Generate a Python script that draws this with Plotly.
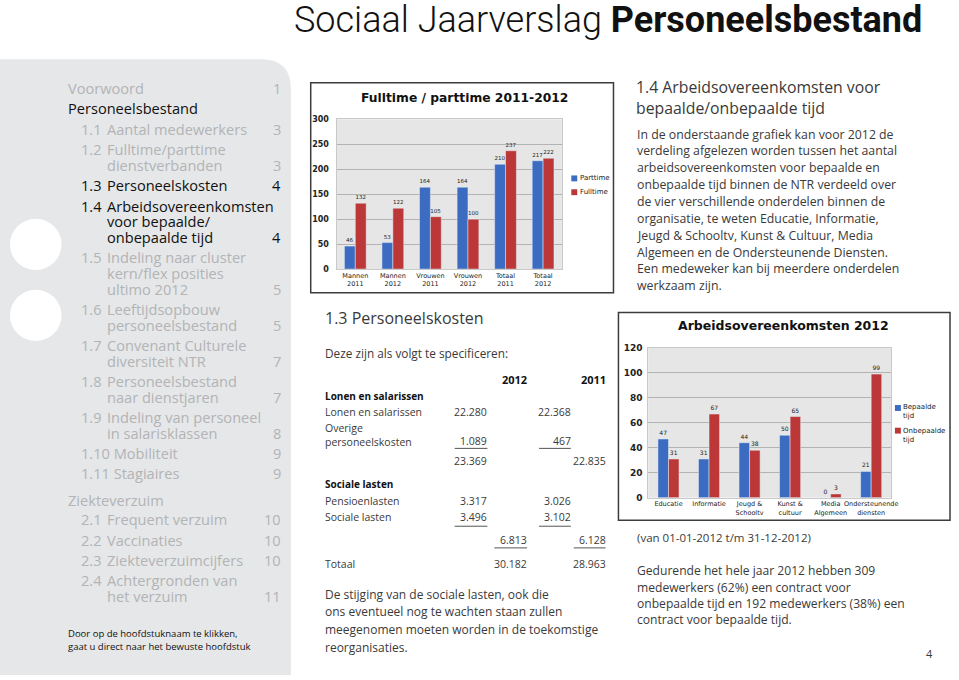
import plotly.graph_objects as go

W, H = 959, 680


def X(p):
    return p / W


def Y(p):
    return 1 - p / H


# ---------------- data ----------------
cats_ft = ["Mannen<br>2011", "Mannen<br>2012", "Vrouwen<br>2011",
           "Vrouwen<br>2012", "Totaal<br>2011", "Totaal<br>2012"]
parttime = [46, 53, 164, 164, 210, 217]
fulltime = [132, 122, 105, 100, 237, 222]

cats_ao = ["Educatie", "Informatie", "Jeugd &amp;<br>Schooltv", "Kunst &amp;<br>cultuur",
           "Media<br>Algemeen", "Ondersteunende<br>diensten"]
bepaalde = [47, 31, 44, 50, 0, 21]
onbepaalde = [31, 67, 38, 65, 3, 99]

toc_top = [("Voorwoord", "1", False), ("Personeelsbestand", "", True)]
toc_items = [
    ("1.1", ["Aantal medewerkers"], "3", False),
    ("1.2", ["Fulltime/parttime", "dienstverbanden"], "3", False),
    ("1.3", ["Personeelskosten"], "4", True),
    ("1.4", ["Arbeidsovereenkomsten", "voor bepaalde/", "onbepaalde tijd"], "4", True),
    ("1.5", ["Indeling naar cluster", "kern/flex posities", "ultimo 2012"], "5", False),
    ("1.6", ["Leeftijdsopbouw", "personeelsbestand"], "5", False),
    ("1.7", ["Convenant Culturele", "diversiteit NTR"], "7", False),
    ("1.8", ["Personeelsbestand", "naar dienstjaren"], "7", False),
    ("1.9", ["Indeling van personeel", "in salarisklassen"], "8", False),
    ("1.10", ["Mobiliteit"], "9", False),
    ("1.11", ["Stagiaires"], "9", False),
]
toc_heading2 = "Ziekteverzuim"
toc_items2 = [
    ("2.1", ["Frequent verzuim"], "10", False),
    ("2.2", ["Vaccinaties"], "10", False),
    ("2.3", ["Ziekteverzuimcijfers"], "10", False),
    ("2.4", ["Achtergronden van", "het verzuim"], "11", False),
]
toc_note = ["Door op de hoofdstuknaam te klikken,",
            "gaat u direct naar het bewuste hoofdstuk"]

cost_years = ["2012", "2011"]
salaris_head = "Lonen en salarissen"
salaris_labels = ["Lonen en salarissen", "Overige<br>personeelskosten"]
salaris_2012 = ["22.280", "1.089"]
salaris_2011 = ["22.368", "467"]
salaris_sub = ["23.369", "22.835"]
sociaal_head = "Sociale lasten"
sociaal_labels = ["Pensioenlasten", "Sociale lasten"]
sociaal_2012 = ["3.317", "3.496"]
sociaal_2011 = ["3.026", "3.102"]
sociaal_sub = ["6.813", "6.128"]
totaal_label = "Totaal"
totaal = ["30.182", "28.963"]

kosten_title = "1.3 Personeelskosten"
kosten_intro = "Deze zijn als volgt te specificeren:"
kosten_para = ["De stijging van de sociale lasten, ook die",
               "ons eventueel nog te wachten staan zullen",
               "meegenomen moeten worden in de toekomstige",
               "reorganisaties."]

ao_title = ["1.4 Arbeidsovereenkomsten voor", "bepaalde/onbepaalde tijd"]
ao_para = ["In de onderstaande grafiek kan voor 2012 de",
           "verdeling afgelezen worden tussen het aantal",
           "arbeidsovereenkomsten voor bepaalde en",
           "onbepaalde tijd binnen de NTR verdeeld over",
           "de vier verschillende onderdelen binnen de",
           "organisatie, te weten Educatie, Informatie,",
           "Jeugd &amp; Schooltv, Kunst &amp; Cultuur, Media",
           "Algemeen en de Ondersteunende Diensten.",
           "Een medeweker kan bij meerdere onderdelen",
           "werkzaam zijn."]
ao_period = "(van 01-01-2012 t/m 31-12-2012)"
ao_para2 = ["Gedurende het hele jaar 2012 hebben 309",
            "medewerkers (62%) een contract voor",
            "onbepaalde tijd en 192 medewerkers (38%) een",
            "contract voor bepaalde tijd."]
page_no = "4"

# ---------------- style ----------------
BLUE = "#3b6cc1"
RED = "#bc3838"
BODY = "Open Sans"
CHART = "DejaVu Sans"
GREY_TXT = "#b2b4b6"
DARK_TXT = "#3a3a3a"

fig = go.Figure()

bw1 = 0.29
fig.add_trace(go.Bar(x=cats_ft, y=parttime, name="Parttime", marker_color=BLUE,
                     width=bw1, offset=-bw1, text=parttime, textposition="outside",
                     constraintext="none", cliponaxis=False,
                     textfont=dict(size=5.5, color="#222", family=CHART),
                     xaxis="x", yaxis="y", showlegend=False))
fig.add_trace(go.Bar(x=cats_ft, y=fulltime, name="Fulltime", marker_color=RED,
                     width=bw1, offset=0, text=fulltime, textposition="outside",
                     constraintext="none", cliponaxis=False,
                     textfont=dict(size=5.5, color="#222", family=CHART),
                     xaxis="x", yaxis="y", showlegend=False))
bw2 = 0.26
fig.add_trace(go.Bar(x=cats_ao, y=bepaalde, name="Bepaalde tijd", marker_color=BLUE,
                     width=bw2, offset=-bw2, text=bepaalde, textposition="outside",
                     constraintext="none", cliponaxis=False,
                     textfont=dict(size=6, color="#222", family=CHART),
                     xaxis="x2", yaxis="y2", showlegend=False))
fig.add_trace(go.Bar(x=cats_ao, y=onbepaalde, name="Onbepaalde tijd", marker_color=RED,
                     width=bw2, offset=0, text=onbepaalde, textposition="outside",
                     constraintext="none", cliponaxis=False,
                     textfont=dict(size=6, color="#222", family=CHART),
                     xaxis="x2", yaxis="y2", showlegend=False))

axis_common = dict(showline=True, linecolor="#c9c9c9", linewidth=1, mirror=True,
                   ticks="", fixedrange=True)
fig.update_layout(
    width=W, height=H, margin=dict(l=0, r=0, t=0, b=0),
    paper_bgcolor="white", plot_bgcolor="#e6e6e6",
    barmode="overlay", showlegend=False,
    xaxis=dict(domain=[X(339), X(566)], anchor="y", showgrid=False, tickangle=0,
               tickfont=dict(size=6.5, family=CHART, color="#222"), **axis_common),
    yaxis=dict(domain=[Y(268), Y(116)], anchor="x", range=[0, 300], dtick=50,
               gridcolor="#b3b3b3", zeroline=False, ticklabelstandoff=5,
               tickfont=dict(size=8, family=CHART, color="#222", weight="bold"),
               **axis_common),
    xaxis2=dict(domain=[X(653), X(898)], anchor="y2", showgrid=False, tickangle=0,
                tickfont=dict(size=6.5, family=CHART, color="#222"), **axis_common),
    yaxis2=dict(domain=[Y(500), Y(348)], anchor="x2", range=[0, 120], dtick=20,
                gridcolor="#b3b3b3", zeroline=False, ticklabelstandoff=3,
                tickfont=dict(size=9, family=CHART, color="#222", weight="bold"),
                **axis_common),
)

shapes = []
# sidebar with rounded top-right corner
shapes.append(dict(type="path", xref="paper", yref="paper",
                   path=(f"M 0,{Y(55)} L {X(263)},{Y(55)} Q {X(293)},{Y(55)} {X(293)},{Y(85)} "
                         f"L {X(293)},{Y(680)} L 0,{Y(680)} Z"),
                   fillcolor="#e6e7e8", line=dict(width=0), layer="below"))
for cy in (243, 315):
    shapes.append(dict(type="circle", xref="paper", yref="paper",
                       x0=X(10), x1=X(62), y0=Y(cy + 26), y1=Y(cy - 26),
                       fillcolor="white", line=dict(width=0), layer="below"))
# chart frames
shapes.append(dict(type="rect", xref="paper", yref="paper", x0=X(313), x1=X(618),
                   y0=Y(292), y1=Y(79), line=dict(color="#3c3c3c", width=1.5)))
shapes.append(dict(type="rect", xref="paper", yref="paper", x0=X(623), x1=X(957),
                   y0=Y(523), y1=Y(312), line=dict(color="#3c3c3c", width=1.5)))
# legend swatches
for cy, col in ((176, BLUE), (190, RED)):
    shapes.append(dict(type="rect", xref="paper", yref="paper", x0=X(575.5), x1=X(581.5),
                       y0=Y(cy + 3), y1=Y(cy - 3), fillcolor=col, line=dict(width=0)))
for cy, col in ((409, BLUE), (432, RED)):
    shapes.append(dict(type="rect", xref="paper", yref="paper", x0=X(901.5), x1=X(907.5),
                       y0=Y(cy + 3), y1=Y(cy - 3), fillcolor=col, line=dict(width=0)))
# table underlines
for yy, segs in ((450, [(458, 491), (543, 575)]),
                 (529, [(458, 491), (543, 575)]),
                 (551, [(498, 531), (578, 610)])):
    for a, b in segs:
        shapes.append(dict(type="line", xref="paper", yref="paper", x0=X(a), x1=X(b),
                           y0=Y(yy), y1=Y(yy), line=dict(color="#555", width=1)))
fig.update_layout(shapes=shapes)


def txt(x, y, s, size=12, color=DARK_TXT, anchor="left", family=BODY, weight=None):
    f = dict(size=size, color=color, family=family)
    if weight is not None:
        f["weight"] = weight
    fig.add_annotation(x=X(x), y=Y(y), xref="paper", yref="paper", text=s,
                       showarrow=False, xanchor=anchor, yanchor="middle",
                       align="left" if anchor == "left" else anchor,
                       font=f, borderpad=0, borderwidth=0)


# page title
txt(929, 15, "Sociaal Jaarverslag <b>Personeelsbestand</b>", size=36, color="#111",
    anchor="right", family="Roboto", weight=300)

# chart titles and legend labels
txt(468, 94, "<b>Fulltime / parttime 2011-2012</b>", size=12.3, color="#111",
    anchor="center", family=CHART)
txt(789, 325, "<b>Arbeidsovereenkomsten 2012</b>", size=12.5, color="#111",
    anchor="center", family=CHART)
txt(584, 176, "Parttime", size=7, color="#222", family=CHART)
txt(584, 190, "Fulltime", size=7, color="#222", family=CHART)
txt(910, 413, "Bepaalde<br>tijd", size=7, color="#222", family=CHART)
txt(910, 437, "Onbepaalde<br>tijd", size=7, color="#222", family=CHART)

# table of contents
TOC_SIZE = 14.6
txt(69, 84, toc_top[0][0], TOC_SIZE, GREY_TXT)
txt(283, 84, toc_top[0][1], TOC_SIZE, GREY_TXT, anchor="right")
txt(69, 105, toc_top[1][0], TOC_SIZE, "#111")


def draw_items(items, y):
    for num, lines, page, active in items:
        col = "#111" if active else GREY_TXT
        if len(num) > 3:
            txt(82, y, num + " " + lines[0], TOC_SIZE, col)
        else:
            txt(82, y, num, TOC_SIZE, col)
            for i, ln in enumerate(lines):
                txt(108, y + i * 16, ln, TOC_SIZE, col)
        txt(283, y + (len(lines) - 1) * 16, page, TOC_SIZE, col, anchor="right")
        y += (len(lines) - 1) * 16 + 20.5
    return y


draw_items(toc_items, 126)
txt(69, 502, toc_heading2, TOC_SIZE, GREY_TXT)
draw_items(toc_items2, 522)
txt(69, 638, toc_note[0], 9.5, "#111")
txt(69, 651, toc_note[1], 9.5, "#111")

# personeelskosten
txt(327, 318, kosten_title, 16, DARK_TXT)
txt(327, 353, kosten_intro, 11.8, DARK_TXT)
txt(531, 380, "<b>" + cost_years[0] + "</b>", 11, "#111", anchor="right")
txt(610, 380, "<b>" + cost_years[1] + "</b>", 11, "#111", anchor="right")
T = 10.5
txt(327, 397, "<b>" + salaris_head + "</b>", T - 0.5, "#111")
txt(327, 413, salaris_labels[0], T, DARK_TXT)
txt(327, 436.5, salaris_labels[1], T, DARK_TXT)
txt(491, 413, salaris_2012[0], T, DARK_TXT, anchor="right")
txt(491, 443, salaris_2012[1], T, DARK_TXT, anchor="right")
txt(575, 413, salaris_2011[0], T, DARK_TXT, anchor="right")
txt(575, 443, salaris_2011[1], T, DARK_TXT, anchor="right")
txt(491, 463, salaris_sub[0], T, DARK_TXT, anchor="right")
txt(610, 463, salaris_sub[1], T, DARK_TXT, anchor="right")
txt(327, 486, "<b>" + sociaal_head + "</b>", T - 0.5, "#111")
txt(327, 503, sociaal_labels[0], T, DARK_TXT)
txt(327, 520, sociaal_labels[1], T, DARK_TXT)
txt(491, 503, sociaal_2012[0], T, DARK_TXT, anchor="right")
txt(491, 520, sociaal_2012[1], T, DARK_TXT, anchor="right")
txt(575, 503, sociaal_2011[0], T, DARK_TXT, anchor="right")
txt(575, 520, sociaal_2011[1], T, DARK_TXT, anchor="right")
txt(531, 543, sociaal_sub[0], T, DARK_TXT, anchor="right")
txt(610, 543, sociaal_sub[1], T, DARK_TXT, anchor="right")
txt(327, 567, totaal_label, T, DARK_TXT)
txt(531, 567, totaal[0], T, DARK_TXT, anchor="right")
txt(610, 567, totaal[1], T, DARK_TXT, anchor="right")
for i, ln in enumerate(kosten_para):
    txt(327, 598 + i * 17.9, ln, 12, DARK_TXT)

# arbeidsovereenkomsten text
txt(641, 94, ao_title[0] + "<br>" + ao_title[1], 15.8, DARK_TXT)
for i, ln in enumerate(ao_para):
    txt(642, 131 + i * 17.1, ln, 12.3, DARK_TXT)
txt(642, 540, ao_period, 11.5, DARK_TXT)
for i, ln in enumerate(ao_para2):
    txt(642, 574 + i * 16.7, ln, 12.1, DARK_TXT)
txt(940, 658, page_no, 11, DARK_TXT, anchor="right")

fig.write_html(
    "out.html",
    config={"displayModeBar": False},
    post_script=("document.documentElement.style.margin='0';"
                 "document.body.style.margin='0';document.body.style.padding='0';"
                 "var d=document.getElementById('{plot_id}');"
                 "d.style.position='fixed';d.style.left='0px';d.style.top='0px';"),
)
